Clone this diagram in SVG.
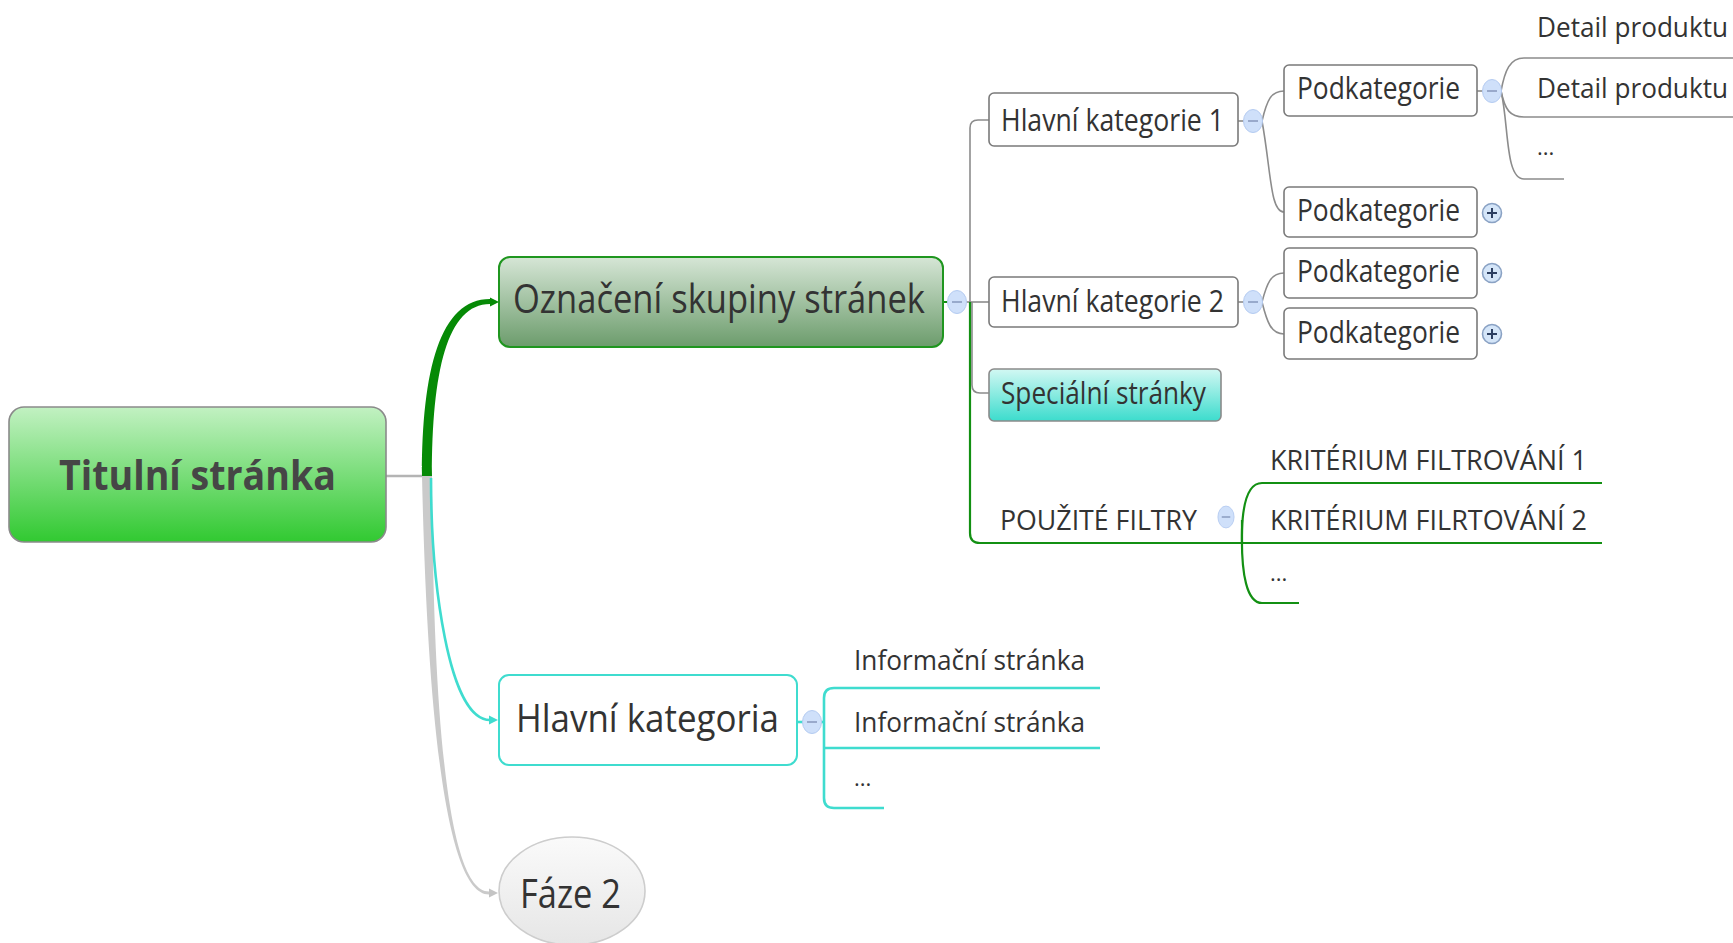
<svg xmlns="http://www.w3.org/2000/svg" xmlns:xlink="http://www.w3.org/1999/xlink" width="1733" height="943" viewBox="0 0 1733 943">
<defs>
<linearGradient id="gTitul" x1="0" y1="0" x2="0" y2="1"><stop offset="0" stop-color="#c2f1c2"/><stop offset="1" stop-color="#31c931"/></linearGradient>
<linearGradient id="gOz" x1="0" y1="0" x2="0" y2="1"><stop offset="0" stop-color="#d6e6d6"/><stop offset="1" stop-color="#6c9c6c"/></linearGradient>
<linearGradient id="gSpec" x1="0" y1="0" x2="0" y2="1"><stop offset="0" stop-color="#d2f8f3"/><stop offset="1" stop-color="#3cdccd"/></linearGradient>
<linearGradient id="gFaze" x1="0" y1="0" x2="0" y2="1"><stop offset="0" stop-color="#fafafa"/><stop offset="1" stop-color="#e6e6e6"/></linearGradient>
<path id="ah" d="M-9,-4.5 L0,0 L-9,4.5 Z"/>
<g id="minus"><ellipse cx="0" cy="0" rx="9.5" ry="11.5" fill="#cfe0fa" stroke="#b4cbf1" stroke-width="1"/><line x1="-5" y1="0" x2="5" y2="0" stroke="#8b9cc0" stroke-width="1.6"/></g>
<g id="plus"><circle cx="0" cy="0" r="9.5" fill="#d4e5f8" stroke="#8aa2c4" stroke-width="1.6"/><line x1="-5" y1="0" x2="5" y2="0" stroke="#2c3e60" stroke-width="2"/><line x1="0" y1="-5" x2="0" y2="5" stroke="#2c3e60" stroke-width="2"/></g>
</defs>
<style>
text{font-family:"Open Sans","Noto Sans","Liberation Sans",sans-serif;fill:#333;}
.box{fill:#fff;stroke:#7a7a7a;stroke-width:1.6;}
.lg{fill:none;stroke:#8c8c8c;stroke-width:1.6;}
.lgr{fill:none;stroke:#139013;stroke-width:2.2;}
.lcy{fill:none;stroke:#3fdccf;stroke-width:2.6;}
.t31{font-size:31px;}
.t27{font-size:27px;}
.dots{font-size:22px;}
</style>
<rect width="1733" height="943" fill="#fff"/>

<g id="connectors">
  <!-- root to branches -->
  <line x1="386" y1="476" x2="428" y2="476" stroke="#b4b4b4" stroke-width="2.5"/>
  <path d="M422,476 L432,476 C433,700 446,891.5 489,891.5 L489,894.5 C444,894.5 427,700 422,476 Z" fill="#cacaca"/>
  <use xlink:href="#ah" x="498" y="893" fill="#c4c4c4"/>
  <path class="lcy" d="M431,478 C431,580 448,720 490,720"/>
  <use xlink:href="#ah" x="498" y="720" fill="#3fdccf"/>
  <path d="M422,476 C422,370 440,299 490,299 L490,304 C447,304 432,372 432,476 Z" fill="#068a06"/>
  <use xlink:href="#ah" x="499" y="302" fill="#068a06"/>

  <!-- Oznaceni branch -->
  <line x1="943" y1="302" x2="950" y2="302" stroke="#139013" stroke-width="2"/>
  <path class="lg" d="M964,302 H989"/>
  <path class="lg" d="M970,302 V128 Q970,120 978,120 H989"/>
  <path class="lg" d="M972,302 V385 Q972,393 980,393 H989"/>
  <path class="lgr" d="M970,302 V533 Q970,543 980,543 H1602"/>

  <!-- HK1 -->
  <path class="lg" d="M1238,121 H1245"/>
  <path class="lg" d="M1262,121 C1267,100 1271,91 1284,91"/>
  <path class="lg" d="M1262,121 C1271,170 1270,212 1284,212"/>
  <!-- Podk1 -->
  <path class="lg" d="M1477,91 H1484"/>
  <path class="lg" d="M1501,91 C1505,70 1510,58 1524,58 H1733"/>
  <path class="lg" d="M1501,91 C1505,110 1510,117 1524,117 H1733"/>
  <path class="lg" d="M1501,91 C1509,125 1505,179 1524,179 H1564"/>
  <!-- HK2 -->
  <path class="lg" d="M1238,302 H1245"/>
  <path class="lg" d="M1262,302 C1267,283 1271,273 1284,273"/>
  <path class="lg" d="M1262,302 C1267,322 1271,334 1284,334"/>
  <!-- filters -->
  <path class="lgr" d="M1602,483 H1262 C1249,483 1243,500 1242,530 C1241,575 1247,603 1262,603 H1299"/>
  <path class="lgr" d="M1242,520 L1242,543"/>
  <!-- Hlavni kategoria -->
  <path class="lcy" d="M797,722 H804"/>
  <path class="lcy" d="M820,722 H824"/>
  <path class="lcy" d="M1100,688 H834 Q824,688 824,698 V798 Q824,808 834,808 H884"/>
  <path class="lcy" d="M824,748 H1100"/>
</g>

<g id="node-titulni">
  <rect x="9" y="407" width="377" height="135" rx="15" fill="url(#gTitul)" stroke="#8a8a8a" stroke-width="1.6"/>
  <text x="59" y="490" font-size="42" font-weight="bold" style="fill:#464646" textLength="277" lengthAdjust="spacingAndGlyphs">Titulní stránka</text>
</g>

<g id="node-oznaceni">
  <rect x="499" y="257" width="444" height="90" rx="11" fill="url(#gOz)" stroke="#1f961f" stroke-width="2"/>
  <text x="513" y="313" font-size="40" textLength="412" lengthAdjust="spacingAndGlyphs">Označení skupiny stránek</text>
  <use xlink:href="#minus" x="957" y="302"/>
</g>

<g id="node-hk1">
  <rect class="box" x="989" y="93" width="249" height="53" rx="5"/>
  <text class="t31" x="1001" y="131" textLength="223" lengthAdjust="spacingAndGlyphs">Hlavní kategorie 1</text>
  <use xlink:href="#minus" x="1253" y="121"/>
</g>

<g id="node-podk1">
  <rect class="box" x="1284" y="65" width="193" height="51" rx="5"/>
  <text class="t31" x="1297" y="99" textLength="163" lengthAdjust="spacingAndGlyphs">Podkategorie</text>
  <use xlink:href="#minus" x="1492" y="91"/>
</g>

<g id="node-detail1">
  <text class="t27" x="1537" y="37" textLength="191" lengthAdjust="spacingAndGlyphs">Detail produktu</text>
</g>
<g id="node-detail2">
  <text class="t27" x="1537" y="98" textLength="191" lengthAdjust="spacingAndGlyphs">Detail produktu</text>
</g>
<g id="node-detail-dots">
  <text class="dots" x="1537" y="155">...</text>
</g>

<g id="node-podk2">
  <rect class="box" x="1284" y="187" width="193" height="50" rx="5"/>
  <text class="t31" x="1297" y="221" textLength="163" lengthAdjust="spacingAndGlyphs">Podkategorie</text>
  <use xlink:href="#plus" x="1492" y="213"/>
</g>

<g id="node-hk2">
  <rect class="box" x="989" y="277" width="249" height="50" rx="5"/>
  <text class="t31" x="1001" y="312" textLength="223" lengthAdjust="spacingAndGlyphs">Hlavní kategorie 2</text>
  <use xlink:href="#minus" x="1253" y="302"/>
</g>

<g id="node-podk3">
  <rect class="box" x="1284" y="248" width="193" height="50" rx="5"/>
  <text class="t31" x="1297" y="282" textLength="163" lengthAdjust="spacingAndGlyphs">Podkategorie</text>
  <use xlink:href="#plus" x="1492" y="273"/>
</g>

<g id="node-podk4">
  <rect class="box" x="1284" y="308" width="193" height="51" rx="5"/>
  <text class="t31" x="1297" y="343" textLength="163" lengthAdjust="spacingAndGlyphs">Podkategorie</text>
  <use xlink:href="#plus" x="1492" y="334"/>
</g>

<g id="node-specialni">
  <rect x="989" y="369" width="232" height="52" rx="5" fill="url(#gSpec)" stroke="#8a8a8a" stroke-width="1.6"/>
  <text class="t31" x="1001" y="404" textLength="205" lengthAdjust="spacingAndGlyphs">Speciální stránky</text>
</g>

<g id="node-filtry">
  <text class="t27" x="1000" y="530" textLength="197" lengthAdjust="spacingAndGlyphs">POUŽITÉ FILTRY</text>
  <use xlink:href="#minus" x="1226" y="517" transform="translate(1226 517) scale(0.85 0.95) translate(-1226 -517)"/>
</g>

<g id="node-krit1">
  <text class="t27" x="1270" y="470" textLength="317" lengthAdjust="spacingAndGlyphs">KRITÉRIUM FILTROVÁNÍ 1</text>
</g>
<g id="node-krit2">
  <text class="t27" x="1270" y="530" textLength="317" lengthAdjust="spacingAndGlyphs">KRITÉRIUM FILRTOVÁNÍ 2</text>
</g>
<g id="node-krit-dots">
  <text class="dots" x="1270" y="581">...</text>
</g>

<g id="node-hlavni-kategoria">
  <rect x="499" y="675" width="298" height="90" rx="10" fill="#fff" stroke="#3fdccf" stroke-width="2"/>
  <text x="516" y="732" font-size="39" textLength="263" lengthAdjust="spacingAndGlyphs">Hlavní kategoria</text>
  <use xlink:href="#minus" x="812" y="722"/>
</g>

<g id="node-info1">
  <text class="t27" x="854" y="670" textLength="231" lengthAdjust="spacingAndGlyphs">Informační stránka</text>
</g>
<g id="node-info2">
  <text class="t27" x="854" y="732" textLength="231" lengthAdjust="spacingAndGlyphs">Informační stránka</text>
</g>
<g id="node-info-dots">
  <text class="dots" x="854" y="786">...</text>
</g>

<g id="node-faze2">
  <ellipse cx="572" cy="891" rx="73" ry="54" fill="url(#gFaze)" stroke="#cdcdcd" stroke-width="1.6"/>
  <text x="520" y="908" font-size="40" textLength="101" lengthAdjust="spacingAndGlyphs">Fáze 2</text>
</g>
</svg>
